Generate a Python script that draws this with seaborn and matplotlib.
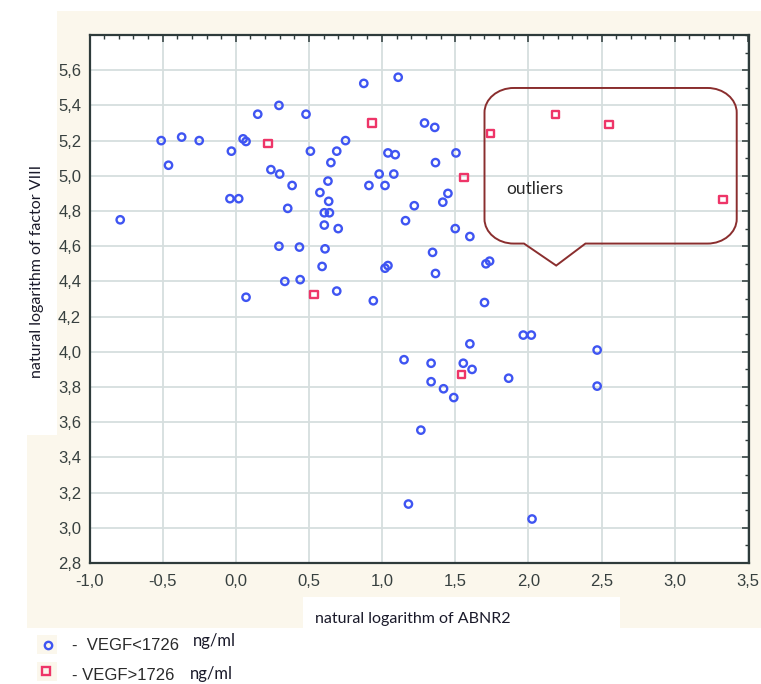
import numpy as np
import pandas as pd
import matplotlib
matplotlib.use("Agg")
import matplotlib.pyplot as plt
import seaborn as sns
from matplotlib.path import Path
from matplotlib.patches import PathPatch, Rectangle
from matplotlib.lines import Line2D

# ---------------- data ----------------
low_x = [-0.79, -0.51, -0.37, -0.25, -0.46, -0.03, -0.04, 0.02, 0.05, 0.07, 0.15, 0.295,
         0.24, 0.30, 0.385, 0.355, 0.295, 0.435, 0.48, 0.51, 0.69, 0.65, 0.63, 0.575,
         0.635, 0.605, 0.64, 0.605, 0.70, 0.61, 0.59, 0.07, 0.335, 0.44, 0.69, 0.875,
         1.11, 1.29, 1.36, 0.75, 1.04, 1.09, 1.505, 1.365, 0.98, 1.08, 0.91, 1.02,
         1.45, 1.415, 1.22, 1.16, 1.50, 1.60, 1.345, 1.02, 1.04, 1.365, 1.71, 1.735,
         0.94, 1.70, 1.965, 2.02, 1.60, 2.47, 1.15, 1.335, 1.555, 1.615, 1.865, 1.335,
         1.42, 1.49, 2.47, 1.265, 1.18, 2.025]
low_y = [4.75, 5.20, 5.22, 5.20, 5.06, 5.14, 4.87, 4.87, 5.21, 5.195, 5.35, 5.40,
         5.035, 5.01, 4.945, 4.815, 4.60, 4.595, 5.35, 5.14, 5.14, 5.075, 4.97, 4.905,
         4.855, 4.79, 4.79, 4.72, 4.70, 4.585, 4.485, 4.31, 4.40, 4.41, 4.345, 5.525,
         5.56, 5.30, 5.275, 5.20, 5.13, 5.12, 5.13, 5.075, 5.01, 5.01, 4.945, 4.945,
         4.90, 4.85, 4.83, 4.745, 4.70, 4.655, 4.565, 4.475, 4.49, 4.445, 4.50, 4.515,
         4.29, 4.28, 4.095, 4.095, 4.045, 4.01, 3.955, 3.935, 3.935, 3.90, 3.85, 3.83,
         3.79, 3.74, 3.805, 3.555, 3.135, 3.05]

high_x = [0.22, 0.93, 0.535, 1.56, 1.74, 2.185, 2.55, 3.33, 1.545]
high_y = [5.185, 5.30, 4.325, 4.99, 5.24, 5.35, 5.29, 4.865, 3.87]

group_names = ["VEGF<1726", "VEGF>1726"]
legend_texts = ["-  VEGF<1726", "- VEGF>1726"]
unit_text = "ng/ml"
x_label = "natural logarithm of ABNR2"
y_label = "natural logarithm of factor VIII"
callout_text = "outliers"

x_ticks = [-1.0, -0.5, 0.0, 0.5, 1.0, 1.5, 2.0, 2.5, 3.0, 3.5]
x_tick_labels = ["-1,0", "-0,5", "0,0", "0,5", "1,0", "1,5", "2,0", "2,5", "3,0", "3,5"]
y_ticks = [2.8, 3.0, 3.2, 3.4, 3.6, 3.8, 4.0, 4.2, 4.4, 4.6, 4.8, 5.0, 5.2, 5.4, 5.6]
y_tick_labels = ["2,8", "3,0", "3,2", "3,4", "3,6", "3,8", "4,0", "4,2", "4,4", "4,6",
                 "4,8", "5,0", "5,2", "5,4", "5,6"]

df = pd.DataFrame({
    "x": low_x + high_x,
    "y": low_y + high_y,
    "group": [group_names[0]] * len(low_x) + [group_names[1]] * len(high_x),
})

# ---------------- style ----------------
sns.set_style("white")
plt.rcParams["font.family"] = ["Liberation Sans", "DejaVu Sans"]

BLUE = "#3F55F2"
RED = "#EE3568"
BEIGE = "#FBF7EC"
GRID = "#D6DEDE"
FRAME = "#2E3B3B"
TXT = "#37403F"

W, H = 761, 684
fig = plt.figure(figsize=(W / 100, H / 100), dpi=100)
fig.patch.set_facecolor("white")

def fx(px):
    return px / W

def fy(py):
    return 1 - py / H

# beige background panels
fig.add_artist(Rectangle((fx(57), fy(628)), fx(761 - 57), (628 - 11) / H,
                         transform=fig.transFigure, facecolor=BEIGE, edgecolor="none", zorder=0))
fig.add_artist(Rectangle((fx(27), fy(628)), fx(57 - 27), (628 - 435) / H,
                         transform=fig.transFigure, facecolor=BEIGE, edgecolor="none", zorder=0))
fig.add_artist(Rectangle((fx(303), fy(632)), fx(620 - 303), (632 - 597) / H,
                         transform=fig.transFigure, facecolor="white", edgecolor="none", zorder=0))

ax = fig.add_axes([fx(89.5), fy(563), fx(749 - 89.5), (563 - 35) / H])
ax.set_facecolor("white")

palette = {group_names[0]: BLUE, group_names[1]: RED}
markers = {group_names[0]: "o", group_names[1]: "s"}
sns.scatterplot(data=df, x="x", y="y", hue="group", style="group", palette=palette,
                markers=markers, s=28, linewidth=1.7, legend=False, ax=ax, zorder=3)
for coll in ax.collections:
    fc = coll.get_facecolors()
    coll.set_edgecolors(fc)
    coll.set_facecolors("none")

ax.set_xlim(-1.0, 3.508)
ax.set_ylim(2.8, 5.80)
ax.set_xticks(x_ticks)
ax.set_xticklabels(x_tick_labels)
ax.set_yticks(y_ticks)
ax.set_yticklabels(y_tick_labels)
ax.set_xticks(np.arange(-1.0, 3.51, 0.1), minor=True)
ax.set_yticks(np.arange(2.8, 5.81, 0.1), minor=True)
ax.tick_params(which="both", direction="in", top=True, right=True, colors=FRAME,
               labelcolor=TXT, labelsize=12)
ax.tick_params(which="major", length=5, width=1.1)
ax.tick_params(which="minor", length=3, width=1.0)
ax.tick_params(axis="x", which="major", pad=8)
ax.tick_params(axis="y", which="major", pad=6)
ax.grid(True, which="major", color=GRID, linewidth=1.3)
ax.set_axisbelow(True)
for sp in ax.spines.values():
    sp.set_color(FRAME)
    sp.set_linewidth(1.6)
ax.set_xlabel("")
ax.set_ylabel("")

# axis labels
fig.text(fx(413), fy(619), x_label, ha="center", va="center", fontsize=11.5,
         family=["Lato", "DejaVu Sans"], color="#1A1A2A")
fig.text(fx(37), fy(271), y_label, ha="center", va="center", rotation=90, fontsize=11.5,
         family=["Lato", "DejaVu Sans"], color="#1A1A2A")

# callout shape
L, R, T, B = 1.70, 3.424, 5.499, 4.615
rx, ry = 0.20, 0.14
k = 0.5523
tipx, tipy = 2.19, 4.49
bl, br = 1.97, 2.39
verts = [
    (L + rx, T),
    (R - rx, T),
    (R - rx + k * rx, T), (R, T - ry + k * ry), (R, T - ry),
    (R, B + ry),
    (R, B + ry - k * ry), (R - rx + k * rx, B), (R - rx, B),
    (br, B),
    (tipx, tipy),
    (bl, B),
    (L + rx, B),
    (L + rx - k * rx, B), (L, B + ry - k * ry), (L, B + ry),
    (L, T - ry),
    (L, T - ry + k * ry), (L + rx - k * rx, T), (L + rx, T),
]
codes = [Path.MOVETO, Path.LINETO,
         Path.CURVE4, Path.CURVE4, Path.CURVE4,
         Path.LINETO,
         Path.CURVE4, Path.CURVE4, Path.CURVE4,
         Path.LINETO, Path.LINETO, Path.LINETO, Path.LINETO,
         Path.CURVE4, Path.CURVE4, Path.CURVE4,
         Path.LINETO,
         Path.CURVE4, Path.CURVE4, Path.CURVE4]
ax.add_patch(PathPatch(Path(verts, codes), facecolor="none", edgecolor="#8A2E2E",
                       linewidth=1.4, zorder=2))
ax.text(1.85, 4.925, callout_text, ha="left", va="center", fontsize=12.5,
        family=["Lato", "DejaVu Sans"], color="#2A2A2A", zorder=4)

# legend (bottom left)
fig.add_artist(Rectangle((fx(37), fy(654)), fx(20), 19 / H, transform=fig.transFigure,
                         facecolor=BEIGE, edgecolor="none"))
fig.add_artist(Rectangle((fx(37), fy(681)), fx(20), 19 / H, transform=fig.transFigure,
                         facecolor=BEIGE, edgecolor="none"))
fig.add_artist(Line2D([fx(47.5)], [fy(645)], transform=fig.transFigure, marker="o",
                      markersize=5.3, markerfacecolor="none", markeredgecolor=BLUE,
                      markeredgewidth=1.7, linestyle="none"))
fig.add_artist(Line2D([fx(45.5)], [fy(671)], transform=fig.transFigure, marker="s",
                      markersize=5.8, markerfacecolor="none", markeredgecolor=RED,
                      markeredgewidth=1.7, linestyle="none"))
fig.text(fx(72), fy(645), legend_texts[0], ha="left", va="center", fontsize=12, color="#2A2A2A")
fig.text(fx(72), fy(676), legend_texts[1], ha="left", va="center", fontsize=12, color="#2A2A2A")
fig.text(fx(193), fy(641), unit_text, ha="left", va="center", fontsize=12,
         family=["Lato", "DejaVu Sans"], color="#1A1A2A")
fig.text(fx(190), fy(674), unit_text, ha="left", va="center", fontsize=12,
         family=["Lato", "DejaVu Sans"], color="#1A1A2A")

fig.savefig("out.png", dpi=100, facecolor=fig.get_facecolor())
